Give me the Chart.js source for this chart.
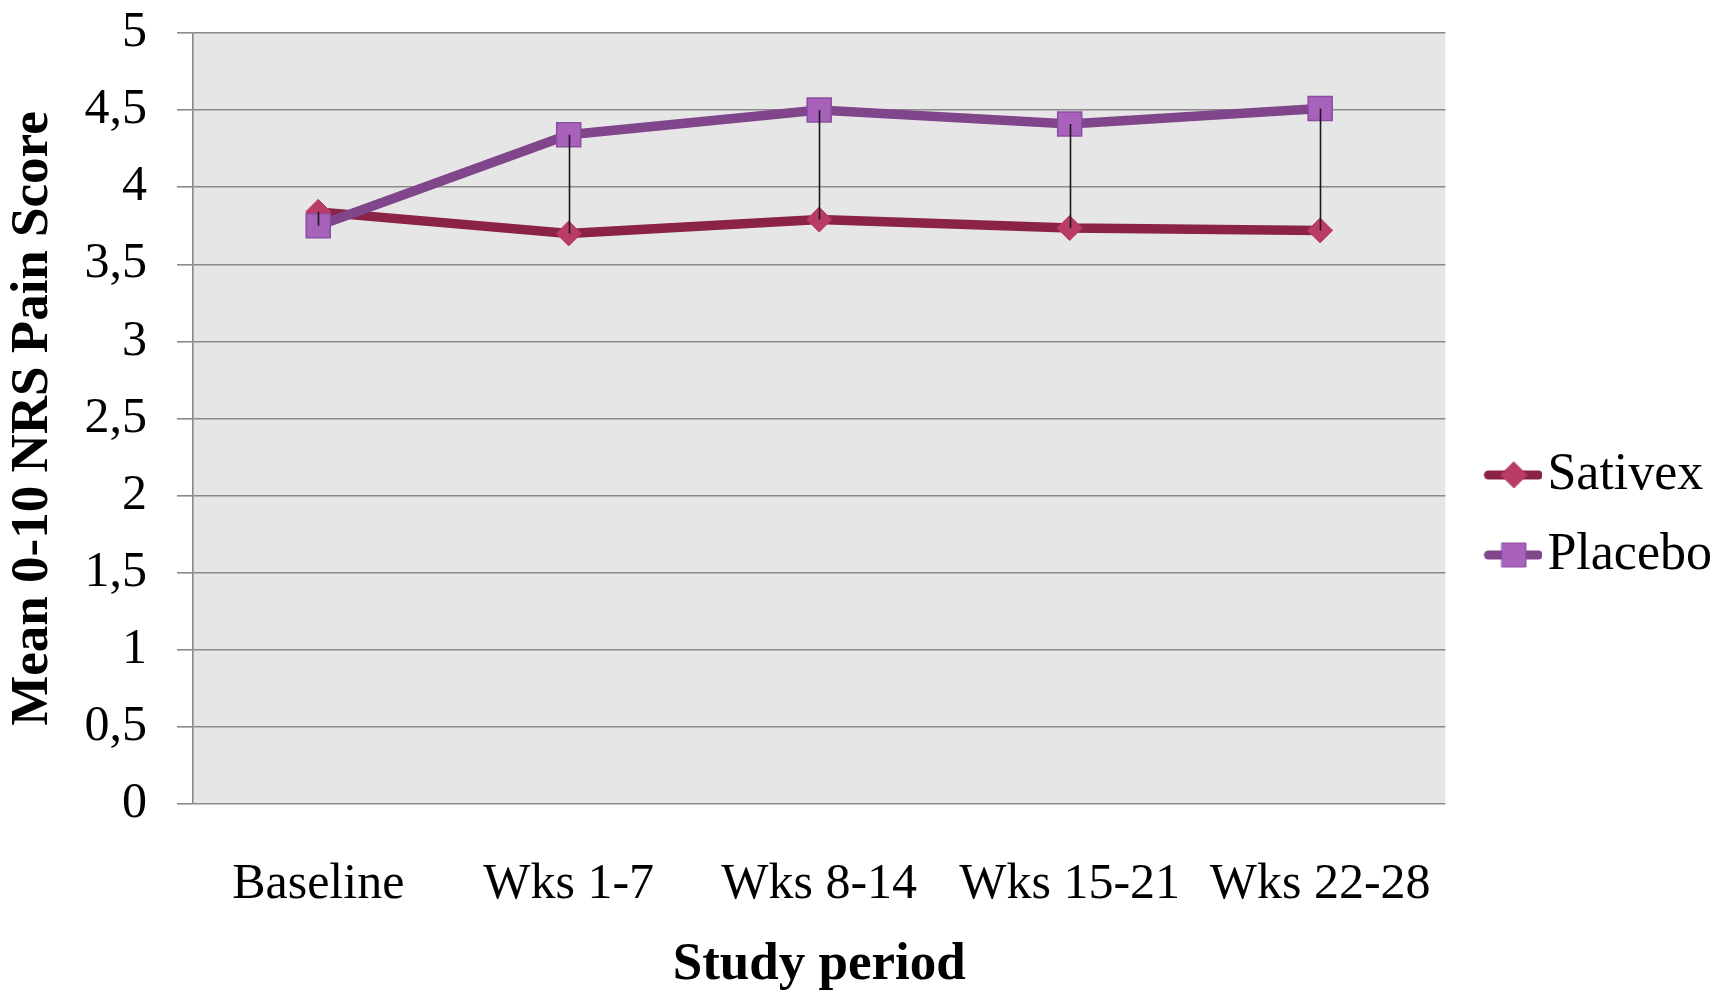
<!DOCTYPE html>
<html>
<head>
<meta charset="utf-8">
<script src="https://cdn.jsdelivr.net/npm/chart.js@4.4.0/dist/chart.umd.min.js"></script>
<style>
  html, body { margin: 0; padding: 0; background: #fff; }
</style>
</head>
<body>
<canvas id="pain-chart" width="1732" height="997"></canvas>
<script>
// data
const periods = ['Baseline', 'Wks 1-7', 'Wks 8-14', 'Wks 15-21', 'Wks 22-28'];
const sativex = [3.84, 3.70, 3.79, 3.735, 3.72];
const placebo = [3.75, 4.34, 4.50, 4.41, 4.51];

const FONT = "'Liberation Serif', 'Times New Roman', serif";
const SATIVEX_LINE = '#8B2346', SATIVEX_MARK = '#B93B67';
const PLACEBO_LINE = '#80458B', PLACEBO_MARK = '#A862BC', PLACEBO_EDGE = '#8A4E9E';

// little line+marker pictures for the legend
function makeKey(shape, line, fill, edge) {
    const c = document.createElement('canvas');
    c.width = 90; c.height = 30;
    const g = c.getContext('2d');
    g.strokeStyle = line;
    g.lineWidth = 9;
    g.lineCap = 'round';
    g.beginPath(); g.moveTo(36, 15); g.lineTo(86, 15); g.stroke();
    const cx = 61.5, cy = 15;
    g.fillStyle = fill; g.strokeStyle = edge; g.lineWidth = 1;
    g.beginPath();
    if (shape === 'diamond') {
        g.moveTo(cx, cy - 13); g.lineTo(cx + 13, cy); g.lineTo(cx, cy + 13); g.lineTo(cx - 13, cy);
        g.closePath();
    } else {
        g.rect(cx - 12, cy - 12, 24, 24);
    }
    g.fill(); g.stroke();
    return c;
}
const keys = [
    makeKey('diamond', SATIVEX_LINE, SATIVEX_MARK, SATIVEX_MARK),
    makeKey('square', PLACEBO_LINE, PLACEBO_MARK, PLACEBO_EDGE)
];

// grey plot area
const plotBg = {
    id: 'plotBg',
    beforeDraw(chart) {
        const {ctx, chartArea: a} = chart;
        ctx.save();
        ctx.fillStyle = '#E6E6E6';
        ctx.fillRect(a.left, a.top, a.right - a.left, a.bottom - a.top);
        ctx.restore();
    }
};

// thin black high-low lines between the two series
const dropLines = {
    id: 'dropLines',
    afterDatasetsDraw(chart) {
        const {ctx, scales: {x, y}} = chart;
        ctx.save();
        ctx.strokeStyle = '#1a1a1a';
        ctx.lineWidth = 1.6;
        periods.forEach((p, i) => {
            const px = Math.round(x.getPixelForValue(i)) + 0.5;
            ctx.beginPath();
            ctx.moveTo(px, y.getPixelForValue(placebo[i]));
            ctx.lineTo(px, y.getPixelForValue(sativex[i]));
            ctx.stroke();
        });
        ctx.restore();
    }
};

new Chart(document.getElementById('pain-chart'), {
    type: 'line',
    data: {
        labels: periods,
        datasets: [
            {
                label: 'Sativex',
                data: sativex,
                order: 1,
                borderColor: SATIVEX_LINE,
                borderWidth: 9.5,
                pointStyle: 'rectRot',
                pointRadius: 12.5,
                pointBackgroundColor: SATIVEX_MARK,
                pointBorderColor: SATIVEX_MARK,
                pointBorderWidth: 1
            },
            {
                label: 'Placebo',
                data: placebo,
                order: 0,
                borderColor: PLACEBO_LINE,
                borderWidth: 9.5,
                pointStyle: 'rect',
                pointRadius: 17,
                pointBackgroundColor: PLACEBO_MARK,
                pointBorderColor: PLACEBO_EDGE,
                pointBorderWidth: 1.5
            }
        ]
    },
    options: {
        responsive: false,
        animation: false,
        layout: { padding: { top: 33, right: 10, bottom: 0, left: 0 } },
        plugins: {
            tooltip: { enabled: false },
            legend: {
                position: 'right',
                labels: {
                    usePointStyle: true,
                    pointStyleWidth: 48,
                    padding: 28,
                    color: '#000',
                    font: { family: FONT, size: 52 },
                    sort: (a, b) => a.datasetIndex - b.datasetIndex,
                    generateLabels(chart) {
                        const items = Chart.defaults.plugins.legend.labels.generateLabels(chart);
                        items.forEach(it => { it.pointStyle = keys[it.datasetIndex]; });
                        return items;
                    }
                }
            }
        },
        scales: {
            x: {
                offset: true,
                grid: { display: false, drawTicks: false, offset: true },
                border: { display: false },
                ticks: { color: '#000', font: { family: FONT, size: 50 }, padding: 51, maxRotation: 0 },
                title: {
                    display: true,
                    text: 'Study period',
                    color: '#000',
                    font: { family: FONT, size: 53, weight: 'bold' },
                    padding: { top: 0, bottom: 0 }
                },
                afterFit(s) { s.height = 193; s.paddingTop = 0; s.paddingBottom = 0; }
            },
            y: {
                min: 0,
                max: 5,
                grid: { color: '#8a8a8a', lineWidth: 1.6, tickLength: 16 },
                border: { display: true, color: '#8a8a8a', width: 1.6 },
                ticks: {
                    stepSize: 0.5,
                    color: '#000',
                    padding: 30,
                    font: { family: FONT, size: 50 },
                    callback: v => String(v).replace('.', ',')
                },
                title: {
                    display: true,
                    text: 'Mean 0-10 NRS Pain Score',
                    color: '#000',
                    font: { family: FONT, size: 53, weight: 'bold' },
                    padding: { top: 2, bottom: 0 }
                },
                afterFit(s) { s.width = 193; s.paddingTop = 0; s.paddingBottom = 0; }
            }
        }
    },
    plugins: [plotBg, dropLines]
});
</script>
</body>
</html>
